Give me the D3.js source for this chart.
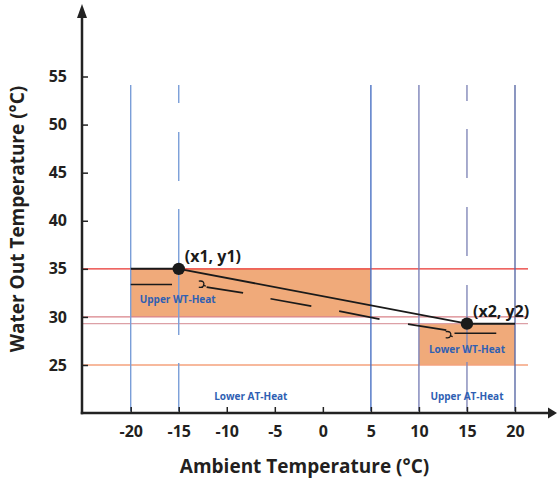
<!DOCTYPE html>
<html><head><meta charset="utf-8">
<script src="https://cdn.jsdelivr.net/npm/d3@7/dist/d3.min.js"></script>
<style>
body{margin:0;background:#fff;}
text{font-family:"Open Sans",sans-serif;}
</style></head>
<body><svg id="chart" width="558" height="481"></svg>
<script>
// ---- data ----
const xTicks = [-20,-15,-10,-5,0,5,10,15,20];
const yTicks = [25,30,35,40,45,50,55];
const vLineXs = [-20,-15,5,10,15,20];
const hLineYs = [35,30,29.3,25];
const point1 = {x:-15, y:35, label:"(x1, y1)"};
const point2 = {x:15, y:29.3, label:"(x2, y2)"};
const upperWT = {x0:-20, x1:5, y0:30, y1:35, label:"Upper WT-Heat"};
const lowerWT = {x0:10, x1:20, y0:25, y1:29.3, label:"Lower WT-Heat"};
const atLabels = [{x:-7.5, label:"Lower AT-Heat"},{x:15, label:"Upper AT-Heat"}];
const offsetSegs = [
  [[-12.1,33.1],[-8.3,32.5]],
  [[-5.45,31.88],[-1.2,31.12]],
  [[1.7,30.6],[5.9,29.77]],
  [[8.86,29.25],[12.85,28.63]]
];
const flatSegs = [
  [[-20,33.37],[-15.7,33.37]],
  [[13.7,28.3],[18.05,28.3]]
];
const squiggles = [[-12.6,33.3],[13.1,28.05]];
const xTitle = "Ambient Temperature (°C)";
const yTitle = "Water Out Temperature (°C)";

// ---- chart ----
const svg = d3.select("#chart");
const x = d3.scaleLinear().domain([-20,20]).range([130.7,515]);
const y = d3.scaleLinear().domain([25,55]).range([365,76.5]);
const axX = 82, axY = 413;

// rectangles
svg.selectAll("rect.reg").data([upperWT,lowerWT]).join("rect")
  .attr("x",d=>x(d.x0)).attr("y",d=>y(d.y1))
  .attr("width",d=>x(d.x1)-x(d.x0)).attr("height",d=>y(d.y0)-y(d.y1))
  .attr("fill","#f0aa7a");

// horizontal lines
const hColors = ["#e8322e","#d98289","#dca0a6","#f4a27c"];
svg.selectAll("line.h").data(hLineYs).join("line")
  .attr("x1",axX).attr("x2",528)
  .attr("y1",d=>y(d)).attr("y2",d=>y(d))
  .attr("stroke",(d,i)=>hColors[i]).attr("stroke-width",1.3);

// vertical lines
const vColors = ["#7a9ed8","#7a9ed8","#4a72c4","#7c82b8","#8389b9","#5b6aa6"];
const vDash = [null,"18,29,49,28,126,28,52",null,null,"16,28,49,29,49,29,68,9,55",null];
svg.selectAll("line.v").data(vLineXs).join("line")
  .attr("x1",d=>x(d)).attr("x2",d=>x(d))
  .attr("y1",85).attr("y2",axY-2)
  .attr("stroke",(d,i)=>vColors[i]).attr("stroke-width",1.4)
  .attr("stroke-dasharray",(d,i)=>vDash[i]);

// black lines
const blk = "#1a1a1a";
svg.append("line").attr("x1",x(-20)).attr("x2",x(point1.x))
  .attr("y1",y(point1.y)).attr("y2",y(point1.y)).attr("stroke",blk).attr("stroke-width",2);
svg.append("line").attr("x1",x(point2.x)).attr("x2",x(20))
  .attr("y1",y(point2.y)).attr("y2",y(point2.y)).attr("stroke",blk).attr("stroke-width",2);
svg.append("line").attr("x1",x(point1.x)).attr("y1",y(point1.y))
  .attr("x2",x(point2.x)).attr("y2",y(point2.y)).attr("stroke",blk).attr("stroke-width",1.8);
svg.selectAll("line.seg").data(offsetSegs.concat(flatSegs)).join("line")
  .attr("x1",d=>x(d[0][0])).attr("y1",d=>y(d[0][1]))
  .attr("x2",d=>x(d[1][0])).attr("y2",d=>y(d[1][1]))
  .attr("stroke",blk).attr("stroke-width",1.6);
svg.selectAll("path.sq").data(squiggles).join("path")
  .attr("transform",d=>`translate(${x(d[0])},${y(d[1])})`)
  .attr("d","M-3,-4 Q3,-5 2,0 Q1,3 -3,2 M1,0 L4,1")
  .attr("fill","none").attr("stroke",blk).attr("stroke-width",1.3);

// points
svg.selectAll("circle.pt").data([point1,point2]).join("circle")
  .attr("cx",d=>x(d.x)).attr("cy",d=>y(d.y)).attr("r",6.2).attr("fill",blk);
svg.selectAll("text.pt").data([point1,point2]).join("text")
  .attr("x",d=>x(d.x)+6).attr("y",d=>y(d.y)-7)
  .attr("font-size",16).attr("font-weight",700).attr("fill","#1a1a1a")
  .text(d=>d.label);

// region labels
const blue = "#2f5fb3";
svg.append("text").attr("x",x(upperWT.x0)+9).attr("y",303)
  .attr("font-size",10).attr("font-weight",700).attr("fill",blue).text(upperWT.label);
svg.append("text").attr("x",(x(lowerWT.x0)+x(lowerWT.x1))/2).attr("y",353)
  .attr("text-anchor","middle").attr("font-size",10).attr("font-weight",700).attr("fill",blue).text(lowerWT.label);
svg.selectAll("text.at").data(atLabels).join("text")
  .attr("x",d=>x(d.x)).attr("y",400).attr("text-anchor","middle")
  .attr("font-size",10).attr("font-weight",700).attr("fill",blue).text(d=>d.label);

// axes
const gx = svg.append("g").attr("transform",`translate(0,${axY})`)
  .call(d3.axisBottom(x).tickValues(xTicks).tickSize(-6).tickPadding(13).tickFormat(d3.format("d")));
const gy = svg.append("g").attr("transform",`translate(${axX},0)`)
  .call(d3.axisLeft(y).tickValues(yTicks).tickSize(-6).tickPadding(15).tickFormat(d3.format("d")));
[gx,gy].forEach(g=>{
  g.select(".domain").remove();
  g.selectAll(".tick line").attr("stroke","#222").attr("stroke-width",1.5);
  g.selectAll(".tick text").attr("font-family","'Open Sans',sans-serif")
    .attr("font-size",16).attr("font-weight",700).attr("fill","#231f20");
});
gx.selectAll(".tick text").text(d=>d<0?"-"+Math.abs(d):d);

// axis lines with arrows
svg.append("line").attr("x1",axX-1.25).attr("x2",548).attr("y1",axY).attr("y2",axY)
  .attr("stroke","#222").attr("stroke-width",2.5);
svg.append("path").attr("d",`M548,${axY-5.5} L557,${axY} L548,${axY+5.5} Z`).attr("fill","#222");
svg.append("line").attr("x1",axX).attr("x2",axX).attr("y1",axY+1.25).attr("y2",17)
  .attr("stroke","#222").attr("stroke-width",2.5);
svg.append("path").attr("d",`M${axX-5},18 L${axX},4 L${axX+5},18 Z`).attr("fill","#222");

// titles
svg.append("text").attr("x",304.5).attr("y",473).attr("text-anchor","middle")
  .attr("font-size",19).attr("font-weight",700).attr("fill","#231f20").text(xTitle);
svg.append("text").attr("transform","translate(24,219) rotate(-90)").attr("text-anchor","middle")
  .attr("font-size",19).attr("font-weight",700).attr("fill","#231f20").text(yTitle);
</script></body></html>
